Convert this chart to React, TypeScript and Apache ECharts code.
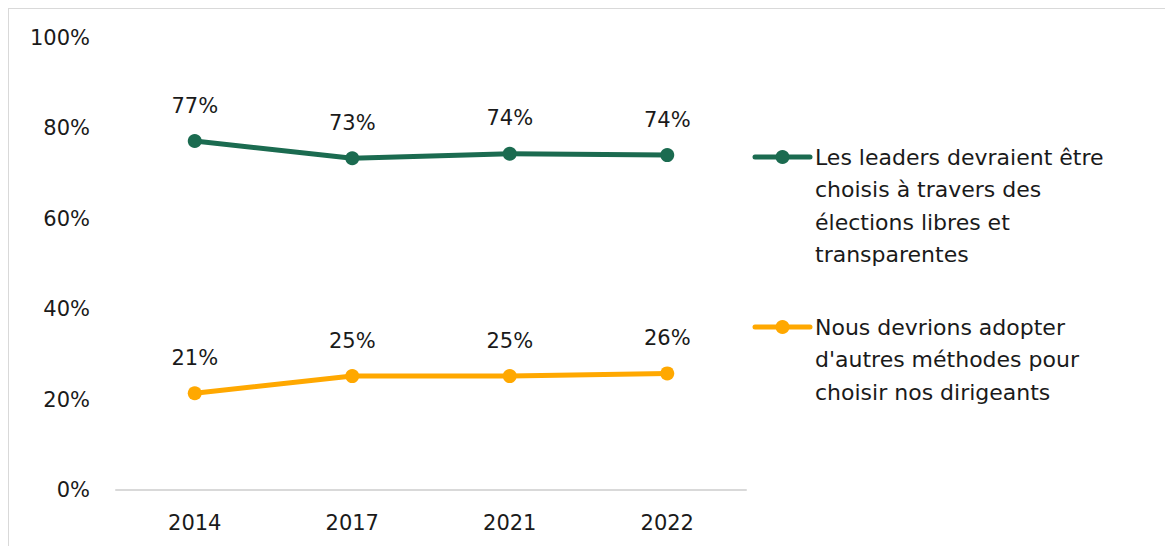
import React, { useEffect, useRef } from "react";
import * as echarts from "echarts";

const years = ["2014", "2017", "2021", "2022"];
const seriesNames = [
  "Les leaders devraient être\nchoisis à travers des\nélections libres et\ntransparentes",
  "Nous devrions adopter\nd'autres méthodes pour\nchoisir nos dirigeants",
];
const electionsValues = [77.2, 73.4, 74.4, 74.1];
const otherMethodsValues = [21.4, 25.2, 25.2, 25.8];
const colors = ["#1b6b50", "#ffa800"];
const yTicks = [0, 20, 40, 60, 80, 100];

const FONT = "DejaVu Sans";

export default function App() {
  const ref = useRef<HTMLDivElement>(null);
  useEffect(() => {
    if (!ref.current) return;
    const chart = echarts.init(ref.current, null, { renderer: "svg" });
    const values = [electionsValues, otherMethodsValues];
    const legendTops = [148, 318];
    const legendGraphics: any[] = [];
    seriesNames.forEach((name, i) => {
      const y = legendTops[i];
      legendGraphics.push(
        { type: "line", shape: { x1: 746, y1: y, x2: 801, y2: y }, style: { stroke: colors[i], lineWidth: 5, lineCap: "round" } },
        { type: "circle", shape: { cx: 773.5, cy: y, r: 7 }, style: { fill: colors[i] } },
        {
          type: "text",
          x: 806,
          y: y - 16,
          style: { text: name, fill: "#1a1a1a", font: `22px '${FONT}'`, lineHeight: 32.5, verticalAlign: "top", align: "left" },
        }
      );
    });
    chart.setOption({
      animation: false,
      textStyle: { fontFamily: FONT },
      grid: { left: 107, top: 29, width: 630, height: 452, containLabel: false },
      xAxis: {
        type: "category",
        data: years,
        boundaryGap: true,
        axisLine: { show: true, lineStyle: { color: "#d9d9d9", width: 2 } },
        axisTick: { show: false },
        axisLabel: { color: "#1a1a1a", fontSize: 21, margin: 22, fontFamily: FONT },
      },
      yAxis: {
        type: "value",
        min: yTicks[0],
        max: yTicks[yTicks.length - 1],
        interval: 20,
        axisLine: { show: false },
        axisTick: { show: false },
        splitLine: { show: false },
        axisLabel: { color: "#1a1a1a", fontSize: 21, margin: 26, fontFamily: FONT, formatter: (v: number) => `${v}%` },
      },
      series: values.map((data, i) => ({
        type: "line",
        name: seriesNames[i],
        data,
        symbol: "circle",
        symbolSize: 14,
        lineStyle: { color: colors[i], width: 5 },
        itemStyle: { color: colors[i] },
        label: {
          show: true,
          position: "top",
          distance: 18,
          color: "#1a1a1a",
          fontSize: 21,
          fontFamily: FONT,
          formatter: (p: any) => `${Math.round(p.value)}%`,
        },
      })),
      graphic: legendGraphics,
    });
    return () => chart.dispose();
  }, []);
  return (
    <div style={{ width: 1165, height: 538, borderTop: "1px solid #d9d9d9", borderLeft: "1px solid #d9d9d9", boxSizing: "border-box" }}>
      <div ref={ref} style={{ width: 1164, height: 537 }} />
    </div>
  );
}
